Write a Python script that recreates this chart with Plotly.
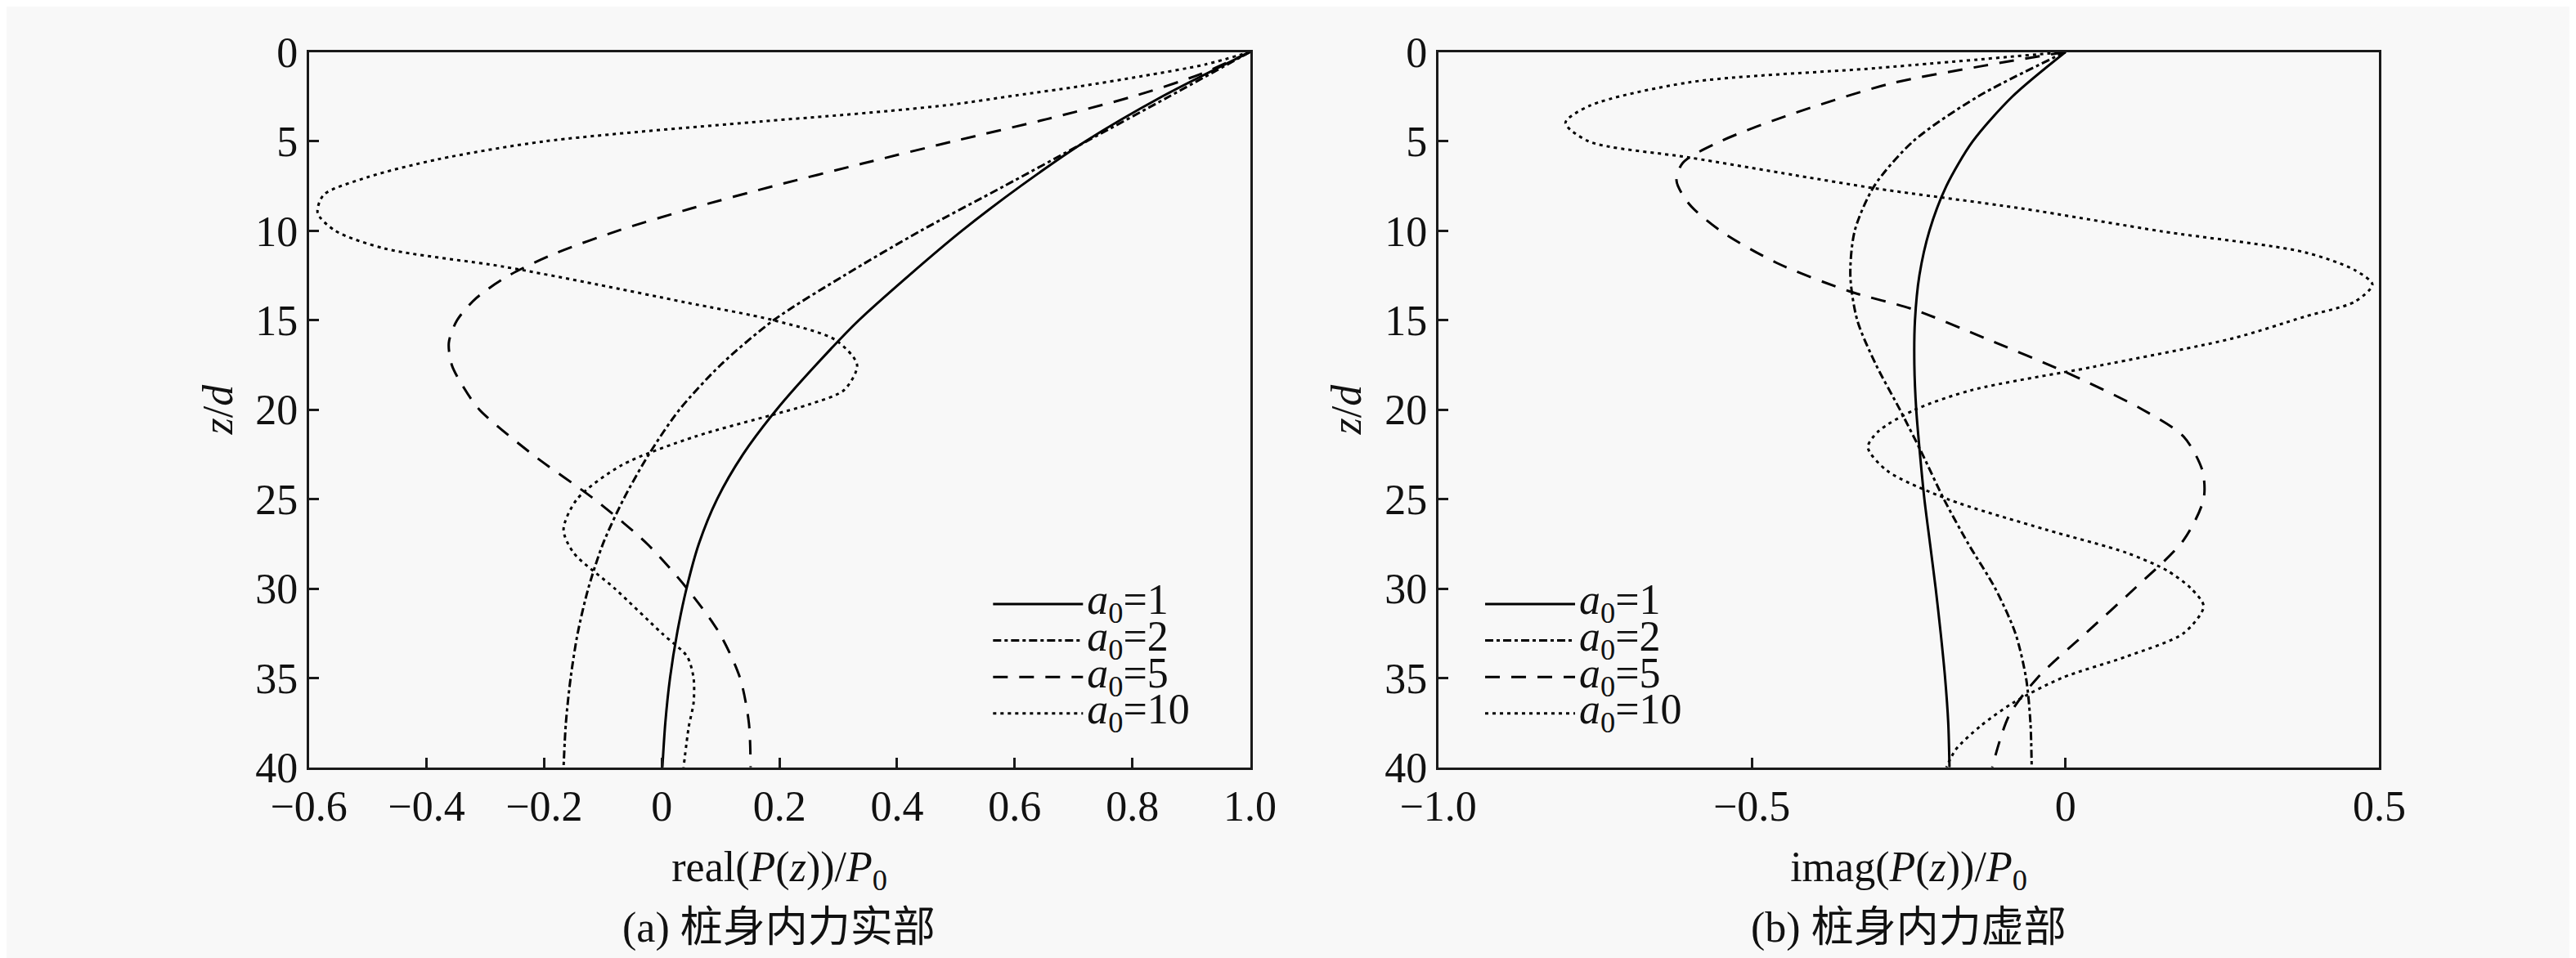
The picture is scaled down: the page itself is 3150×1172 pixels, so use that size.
import plotly.graph_objects as go

# ---- data ----
# (a) real part of pile internal force, real(P(z))/P0
z_grid = [0, 2.5, 5, 7.5, 10, 12.5, 15, 17.5, 20, 22.5, 25, 27.5, 30, 32.5, 35, 37.5, 40]
re_a1 = [1.0, 0.85, 0.72, 0.61, 0.51, 0.42, 0.335, 0.262, 0.195, 0.138, 0.094, 0.063, 0.042, 0.026, 0.014, 0.006, 0.001]
re_a2 = [1.0, 0.862, 0.722, 0.582, 0.44, 0.31, 0.19, 0.1, 0.03, -0.022, -0.065, -0.1, -0.125, -0.143, -0.155, -0.163, -0.167]

z_re_a5 = [0, 1.25, 2.5, 3.75, 5, 6.25, 7.5, 8.75, 10, 11.25, 12.5, 13.75, 15, 16.25, 17.5, 18.75, 20, 22.5, 25, 27.5, 30, 32.5, 35, 37.5, 40]
re_a5 = [1.0, 0.915, 0.8, 0.655, 0.495, 0.34, 0.19, 0.05, -0.075, -0.18, -0.26, -0.315, -0.348, -0.362, -0.357, -0.337, -0.31, -0.22, -0.115, -0.025, 0.043, 0.098, 0.133, 0.148, 0.151]

z_re_a10 = [0, 0.7, 1.35, 1.93, 2.43, 2.94, 3.3, 3.6, 3.88, 5, 6, 7, 8, 9, 10, 11, 12, 13, 14, 15, 16.1, 17.5, 18.9, 19.7, 20.3, 21.5, 23.1, 25, 26.7, 28, 30, 32.5, 33.8, 35, 36.4, 37.7, 40]
re_a10 = [1.0, 0.924, 0.817, 0.709, 0.602, 0.494, 0.386, 0.279, 0.171, -0.2, -0.38, -0.5, -0.575, -0.585, -0.555, -0.47, -0.27, -0.11, 0.04, 0.19, 0.295, 0.332, 0.31, 0.251, 0.187, 0.057, -0.068, -0.144, -0.167, -0.15, -0.08, 0.0, 0.043, 0.054, 0.054, 0.046, 0.037]

# (b) imaginary part, imag(P(z))/P0
im_a1 = [0.0, -0.085, -0.148, -0.19, -0.217, -0.233, -0.24, -0.241, -0.238, -0.232, -0.225, -0.216, -0.207, -0.199, -0.192, -0.187, -0.185]
im_a2 = [0.0, -0.14, -0.243, -0.305, -0.336, -0.343, -0.332, -0.302, -0.264, -0.228, -0.194, -0.155, -0.112, -0.08, -0.063, -0.056, -0.054]

z_im_a5 = [0, 0.77, 1.78, 3.6, 5, 6.2, 7.2, 8.5, 10, 11.8, 13.4, 14.4, 16, 17.9, 20, 21.5, 23.4, 25, 27.3, 30, 32.5, 35, 37.1, 40]
im_a5 = [0.0, -0.13, -0.28, -0.447, -0.55, -0.61, -0.62, -0.60, -0.55, -0.46, -0.343, -0.242, -0.129, 0.0, 0.123, 0.188, 0.218, 0.22, 0.188, 0.11, 0.032, -0.045, -0.09, -0.117]

z_im_a10 = [0, 0.9, 1.7, 3.0, 3.96, 5, 5.9, 6.9, 7.65, 8.74, 10.04, 11.2, 12.2, 13.0, 13.96, 14.8, 16.0, 17.6, 18.9, 20, 21.2, 22.1, 23.4, 25, 26.7, 28, 29, 30, 31, 32.5, 33.8, 35, 36.4, 37.7, 39, 40]
im_a10 = [0.0, -0.30, -0.60, -0.758, -0.797, -0.76, -0.60, -0.43, -0.299, -0.072, 0.155, 0.381, 0.461, 0.489, 0.461, 0.381, 0.268, 0.045, -0.149, -0.24, -0.298, -0.315, -0.285, -0.188, -0.032, 0.097, 0.162, 0.20, 0.22, 0.188, 0.097, -0.006, -0.084, -0.136, -0.175, -0.19]

legend_names = ["<i>a</i><sub>0</sub>=1", "<i>a</i><sub>0</sub>=2",
                "<i>a</i><sub>0</sub>=5", "<i>a</i><sub>0</sub>=10"]
dash_styles = ["solid", "10px,4px,4px,4px", "18px,14px", "4px,5px"]

z_ticks = [0, 5, 10, 15, 20, 25, 30, 35, 40]
re_ticks = [-0.6, -0.4, -0.2, 0, 0.2, 0.4, 0.6, 0.8, 1.0]
re_ticktext = ["\u22120.6", "\u22120.4", "\u22120.2", "0", "0.2", "0.4", "0.6", "0.8", "1.0"]
im_ticks = [-1.0, -0.5, 0, 0.5]
im_ticktext = ["\u22121.0", "\u22120.5", "0", "0.5"]

serif = "Liberation Serif, Noto Sans CJK SC"
bg = "#f8f8f8"
ink = "#111"

fig = go.Figure()

re_curves = [(z_grid, re_a1), (z_grid, re_a2), (z_re_a5, re_a5), (z_re_a10, re_a10)]
im_curves = [(z_grid, im_a1), (z_grid, im_a2), (z_im_a5, im_a5), (z_im_a10, im_a10)]

# legend text drawn at tick-label size, row height kept from the smaller legend font
for i, (zz, vv) in enumerate(re_curves):
    fig.add_trace(go.Scatter(
        x=vv, y=zz, mode="lines",
        name='<span style="font-size:52px">' + legend_names[i] + "</span>",
        line=dict(color="black", width=3, dash=dash_styles[i], shape="spline", smoothing=0.8),
        xaxis="x", yaxis="y", legend="legend",
    ))

for i, (zz, vv) in enumerate(im_curves):
    fig.add_trace(go.Scatter(
        x=vv, y=zz, mode="lines",
        name='<span style="font-size:52px">' + legend_names[i] + "</span>",
        line=dict(color="black", width=3, dash=dash_styles[i], shape="spline", smoothing=0.8),
        xaxis="x2", yaxis="y2", legend="legend2",
    ))

axis_common = dict(
    showline=True, linewidth=3, linecolor="#1a1a1a", mirror=True,
    ticks="inside", ticklen=12, tickwidth=2.5, tickcolor="#1a1a1a",
    showgrid=False, zeroline=False,
    tickfont=dict(family=serif, size=52, color=ink),
)

title_font = dict(family=serif, size=52, color=ink)

legend_common = dict(
    font=dict(family=serif, size=32, color=ink),
    bgcolor="rgba(0,0,0,0)", borderwidth=0,
    itemwidth=110, xanchor="left", yanchor="top",
)

fig.update_layout(
    width=3150, height=1172,
    margin=dict(l=0, r=0, t=0, b=0),
    paper_bgcolor=bg, plot_bgcolor=bg,
    font=dict(family=serif, color=ink),
    xaxis=dict(domain=[0.1051, 0.48], range=[-0.6, 1.0], tickvals=re_ticks, ticktext=re_ticktext,
               anchor="y",
               title=dict(text="real(<i>P</i>(<i>z</i>))/<i>P</i><sub>0</sub>", standoff=28, font=title_font),
               **axis_common),
    yaxis=dict(domain=[0.1903, 0.9753], range=[40, 0], tickvals=z_ticks, anchor="x",
               title=dict(text="<i>z</i>/<i>d</i>", standoff=12, font=title_font),
               **axis_common),
    xaxis2=dict(domain=[0.5549, 0.9298], range=[-1.0, 0.5], tickvals=im_ticks, ticktext=im_ticktext,
                anchor="y2",
                title=dict(text="imag(<i>P</i>(<i>z</i>))/<i>P</i><sub>0</sub>", standoff=28, font=title_font),
                **axis_common),
    yaxis2=dict(domain=[0.1903, 0.9753], range=[40, 0], tickvals=z_ticks, anchor="x2",
                title=dict(text="<i>z</i>/<i>d</i>", standoff=12, font=title_font),
                **axis_common),
    legend=dict(x=0.376, y=0.394, **legend_common),
    legend2=dict(x=0.572, y=0.394, **legend_common),
    showlegend=True,
)

fig.add_annotation(text="(a) 桩身内力实部", xref="paper", yref="paper", x=0.2925, y=0.0145,
                   xanchor="center", yanchor="middle", showarrow=False, font=title_font)
fig.add_annotation(text="(b) 桩身内力虚部", xref="paper", yref="paper", x=0.7424, y=0.0145,
                   xanchor="center", yanchor="middle", showarrow=False, font=title_font)

fig.write_html("out.html")
